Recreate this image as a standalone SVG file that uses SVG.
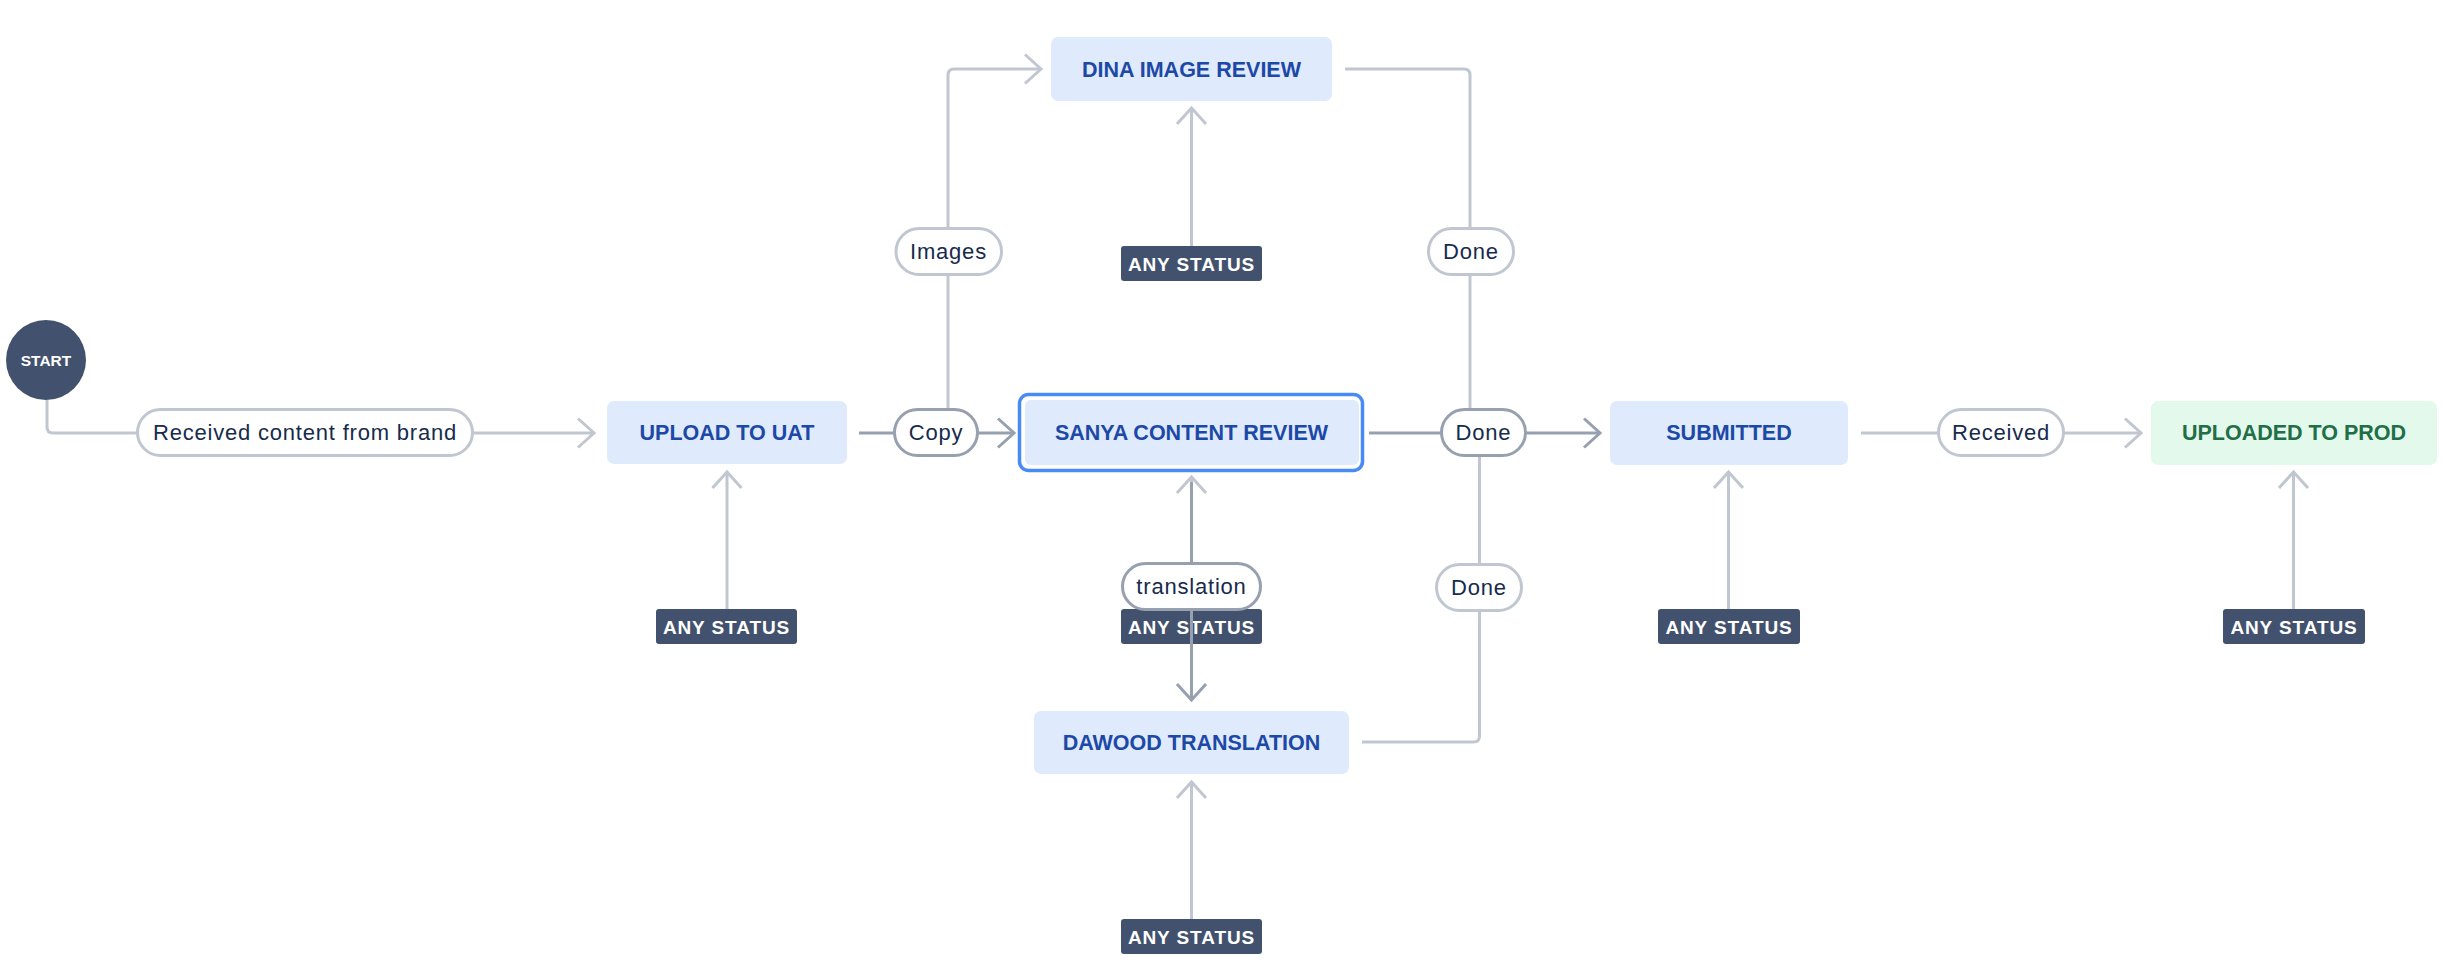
<svg xmlns="http://www.w3.org/2000/svg" width="2444" height="964" viewBox="0 0 2444 964">
<style>
.bg{fill:#ffffff}
.any rect{fill:#42526E}
.any text{fill:#ffffff;font-family:"Liberation Sans",Arial,sans-serif;font-weight:bold;font-size:19px;letter-spacing:0.9px;text-anchor:middle}
.box rect{fill:#DFEAFD}
.box text{fill:#1C48A6;font-family:"Liberation Sans",Arial,sans-serif;font-weight:bold;font-size:21.5px;text-anchor:middle}
.done rect{fill:#E3F9EC}
.done text{fill:#216E47}
.ln{fill:none;stroke:#C1C7D0;stroke-width:3}
.dk{fill:none;stroke:#97A0AF;stroke-width:3}
.pill rect{fill:#ffffff;stroke:#C1C7D0;stroke-width:3}
.pill.sel rect{stroke:#97A0AF}
.pill text{fill:#172B4D;font-family:"Liberation Sans",Arial,sans-serif;font-size:22px;letter-spacing:0.8px;text-anchor:middle}
</style>
<defs>
<marker id="al" markerUnits="userSpaceOnUse" markerWidth="40" markerHeight="40" viewBox="-20 -20 40 40" refX="0" refY="0" orient="auto" overflow="visible">
<path d="M-16,-14.5 L0,0 L-16,14.5" fill="none" stroke="#C1C7D0" stroke-width="3"/>
</marker>
<marker id="ad" markerUnits="userSpaceOnUse" markerWidth="40" markerHeight="40" viewBox="-20 -20 40 40" refX="0" refY="0" orient="auto" overflow="visible">
<path d="M-16,-14.5 L0,0 L-16,14.5" fill="none" stroke="#97A0AF" stroke-width="3"/>
</marker>
</defs>
<rect class="bg" x="0" y="0" width="2444" height="964"/>

<g id="any-status-nodes">
<g id="any-uat" class="any"><rect x="656" y="609" width="141" height="35" rx="3"/><text x="726.5" y="633.5">ANY STATUS</text></g>
<g id="any-dina" class="any"><rect x="1121" y="246" width="141" height="35" rx="3"/><text x="1191.5" y="270.5">ANY STATUS</text></g>
<g id="any-sanya" class="any"><rect x="1121" y="609" width="141" height="35" rx="3"/><text x="1191.5" y="633.5">ANY STATUS</text></g>
<g id="any-dawood" class="any"><rect x="1121" y="919" width="141" height="35" rx="3"/><text x="1191.5" y="943.5">ANY STATUS</text></g>
<g id="any-submitted" class="any"><rect x="1658" y="609" width="142" height="35" rx="3"/><text x="1729" y="633.5">ANY STATUS</text></g>
<g id="any-prod" class="any"><rect x="2223" y="609" width="142" height="35" rx="3"/><text x="2294" y="633.5">ANY STATUS</text></g>
</g>

<g id="connectors">
<path class="ln" d="M47,400 V427 Q47,433 53,433 H594" marker-end="url(#al)"/>
<path class="ln" d="M948,420 V75 Q948,69 954,69 H1041" marker-end="url(#al)"/>
<path class="ln" d="M1345,69 H1464 Q1470,69 1470,75 V420"/>
<path class="ln" d="M1362,742 H1473.5 Q1479.5,742 1479.5,736 V445"/>
<path class="ln" d="M1861,433 H2141" marker-end="url(#al)"/>
<path class="ln" d="M727,609 V472" marker-end="url(#al)"/>
<path class="ln" d="M1191.5,246 V108" marker-end="url(#al)"/>
<path class="ln" d="M1191.5,609 V477" marker-end="url(#al)"/>
<path class="ln" d="M1191.5,919 V782" marker-end="url(#al)"/>
<path class="ln" d="M1728.5,609 V472" marker-end="url(#al)"/>
<path class="ln" d="M2293.5,609 V472" marker-end="url(#al)"/>
<path class="dk" d="M859,433 H1014" marker-end="url(#ad)"/>
<path class="dk" d="M1369,433 H1600" marker-end="url(#ad)"/>
<path class="dk" d="M1191.5,482 V700" marker-end="url(#ad)"/>

<g class="pill"><rect x="137.5" y="409.5" width="335" height="46" rx="23"/><text x="305" y="440">Received content from brand</text></g>
<g class="pill sel"><rect x="894.5" y="409.5" width="83" height="46" rx="23"/><text x="936" y="440">Copy</text></g>
<g class="pill"><rect x="896" y="228.5" width="105.5" height="46" rx="23"/><text x="948.5" y="259">Images</text></g>
<g class="pill"><rect x="1428.5" y="228.5" width="85" height="46" rx="23"/><text x="1471" y="259">Done</text></g>
<g class="pill sel"><rect x="1441.5" y="409.5" width="84" height="46" rx="23"/><text x="1483.5" y="440">Done</text></g>
<g class="pill sel"><rect x="1122.5" y="563.5" width="138" height="46" rx="23"/><text x="1191.5" y="594">translation</text></g>
<g class="pill"><rect x="1436.5" y="564.5" width="85" height="46" rx="23"/><text x="1479" y="595">Done</text></g>
<g class="pill"><rect x="1938.5" y="409.5" width="125" height="46" rx="23"/><text x="2001" y="440">Received</text></g>
</g>

<g id="start">
<circle cx="46" cy="360" r="40" fill="#42526E"/>
<text x="46" y="365.5" fill="#ffffff" font-family="Liberation Sans, Arial, sans-serif" font-weight="bold" font-size="15.5" text-anchor="middle">START</text>
</g>
<g id="upload-to-uat" class="box"><rect x="607" y="401" width="240" height="63" rx="7"/><text x="727" y="440">UPLOAD TO UAT</text></g>
<g id="sanya-content-review" class="box">
<rect x="1019.5" y="394.5" width="343" height="76" rx="9" fill="#ffffff" stroke="#4A8AF4" stroke-width="3.5" style="fill:#ffffff"/>
<rect x="1025" y="400" width="334" height="65" rx="6"/>
<text x="1191.5" y="440">SANYA CONTENT REVIEW</text></g>
<g id="dina-image-review" class="box"><rect x="1051" y="37" width="281" height="64" rx="7"/><text x="1191.5" y="76.5">DINA IMAGE REVIEW</text></g>
<g id="dawood-translation" class="box"><rect x="1034" y="711" width="315" height="63" rx="7"/><text x="1191.5" y="750">DAWOOD TRANSLATION</text></g>
<g id="submitted" class="box"><rect x="1610" y="401" width="238" height="64" rx="7"/><text x="1729" y="440">SUBMITTED</text></g>
<g id="uploaded-to-prod" class="box done"><rect x="2151" y="401" width="286" height="64" rx="7"/><text x="2294" y="440">UPLOADED TO PROD</text></g>
</svg>
